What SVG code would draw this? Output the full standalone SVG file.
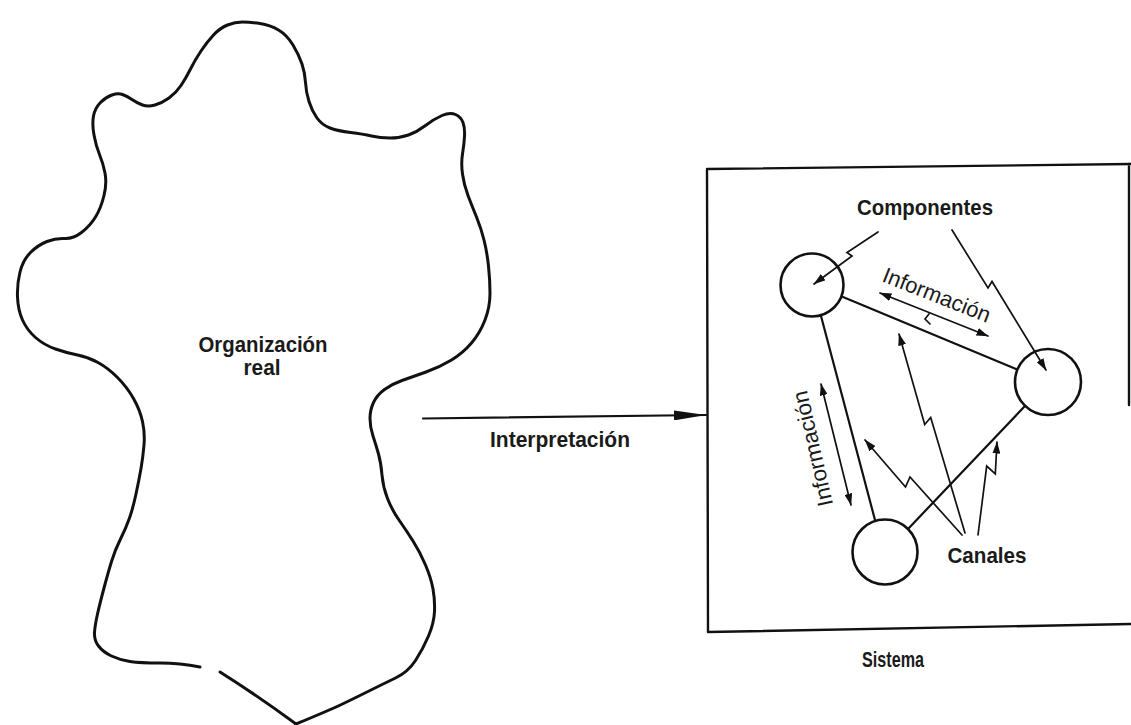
<svg xmlns="http://www.w3.org/2000/svg" width="1131" height="725" viewBox="0 0 1131 725">
  <defs>
    <style>
      .outline { fill: none; stroke: #111; stroke-linecap: round; stroke-linejoin: round; }
      .blob { stroke-width: 3; }
      .frame { stroke-width: 2.4; }
      .node { fill: none; stroke: #111; stroke-width: 2.6; }
      .link { fill: none; stroke: #111; stroke-width: 2.2; stroke-linecap: round; }
      .ptr { fill: none; stroke: #111; stroke-width: 1.7; stroke-linejoin: miter; stroke-linecap: round; }
      .lbl { font-family: "Liberation Sans", Arial, sans-serif; font-size: 22px; fill: #1a1a1a; text-anchor: middle; }
      .b { font-weight: bold; }
    </style>
    <marker id="head" viewBox="0 0 12 8" refX="11.5" refY="4" markerWidth="12" markerHeight="8" markerUnits="userSpaceOnUse" orient="auto-start-reverse">
      <path d="M0,0 L12,4 L0,8 z" fill="#111"/>
    </marker>
    <marker id="longhead" viewBox="0 0 32 10" refX="32" refY="5" markerWidth="32" markerHeight="10" markerUnits="userSpaceOnUse" orient="auto">
      <path d="M0,0 L32,5 L0,10 z" fill="#111"/>
    </marker>
  </defs>

  <!-- free-form outline of the real organisation -->
  <g id="organizacion-real">
    <path class="outline blob" d="M220,672 Q258,696 296,724"/>
    <path class="outline blob" d="M296,724 Q330,710 343.5,703.5 Q357,697 370,690.5 Q383,684 395.5,678 Q408,672 415.5,660.5 Q423,649 428.5,636 Q434,623 434.5,611.5 Q435,600 433,589 Q431,578 425.5,565 Q420,552 413,541 Q406,530 399,520 Q392,510 387.5,498.5 Q383,487 382,475 Q381,463 378.5,454 Q376,445 373,436 Q370,427 370,418.5 Q370,410 373.5,402.5 Q377,395 384.5,389.5 Q392,384 402,380.5 Q412,377 426,372 Q440,367 451.5,360 Q463,353 471.5,343 Q480,333 485,320 Q490,307 490,293.5 Q490,280 488.5,266 Q487,252 484,240 Q481,228 476.5,217 Q472,206 468,195.5 Q464,185 462.5,174 Q461,163 462.5,154 Q464,145 464.5,136.5 Q465,128 463,122.5 Q461,117 455.5,114.5 Q450,112 442,115.5 Q434,119 425.5,125.5 Q417,132 408.5,135 Q400,138 390,138 Q380,138 371.5,136 Q363,134 350.5,132.5 Q338,131 330,128 Q322,125 317,118 Q312,111 309,101.5 Q306,92 305.5,82.5 Q305,73 302,64 Q299,55 293,45 Q287,35 278.5,30 Q270,25 260,23.5 Q250,22 242.5,22 Q235,22 227.5,25 Q220,28 213.5,35 Q207,42 201,51 Q195,60 190.5,69 Q186,78 181,85.5 Q176,93 169,98 Q162,103 155,105 Q148,107 142.5,105 Q137,103 132,99.5 Q127,96 122.5,94.5 Q118,93 112,95 Q106,97 100.5,102.5 Q95,108 93.5,116 Q92,124 94,135 Q96,146 99.5,154.5 Q103,163 105,173 Q107,183 104,195.5 Q101,208 95.5,217 Q90,226 81.5,232.5 Q73,239 64.5,238.5 Q56,238 47,241.5 Q38,245 30.5,252.5 Q23,260 20,272 Q17,284 17.5,297 Q18,310 22.5,320 Q27,330 35.5,337.5 Q44,345 55.5,349 Q67,353 77.5,355 Q88,357 98,362.5 Q108,368 117.5,377.5 Q127,387 133.5,398.5 Q140,410 142.5,421.5 Q145,433 144,445 Q143,457 141,468.5 Q139,480 136,494 Q133,508 129.5,518 Q126,528 120.5,539 Q115,550 111.5,561.5 Q108,573 104,588 Q100,603 97.5,614 Q95,625 94.5,632.5 Q94,640 98.5,646 Q103,652 111.5,656 Q120,660 130,661.5 Q140,663 160,663 Q180,663 200,667"/>
    <text class="lbl b" x="263" y="352" textLength="129" lengthAdjust="spacingAndGlyphs">Organización</text>
    <text class="lbl b" x="262" y="375" textLength="37" lengthAdjust="spacingAndGlyphs">real</text>
  </g>

  <!-- system frame -->
  <g id="sistema">
    <path class="outline frame" d="M707,169 L1131,164 M707,169 L708,632 L1131,624 M1129,164 L1129,405"/>
    <text class="lbl b" x="893" y="667" font-size="20" textLength="62" lengthAdjust="spacingAndGlyphs">Sistema</text>
  </g>

  <!-- connectors: links between components, information flows, pointers -->
  <g id="connectors">
    <line class="link" x1="843" y1="297" x2="1016" y2="369"/>
    <line class="link" x1="821" y1="316" x2="875" y2="520"/>
    <line class="link" x1="908" y1="529" x2="1024" y2="407"/>

    <!-- interpretation arrow -->
    <line class="link" x1="423" y1="418.5" x2="706" y2="415" stroke-width="2" marker-end="url(#longhead)"/>

    <!-- information double arrows -->
    <line class="ptr" x1="880" y1="293" x2="988" y2="336" marker-start="url(#head)" marker-end="url(#head)"/>
    <path class="ptr" d="M929,314 L925,319 L930,324" stroke-width="1.2"/>
    <line class="ptr" x1="821" y1="384" x2="851" y2="505" marker-start="url(#head)" marker-end="url(#head)"/>

    <!-- Componentes pointers -->
    <polyline class="ptr" points="878,232 847,252.5 852,256 814,284" marker-end="url(#head)"/>
    <polyline class="ptr" points="952,230 988,288 992,281.5 1046,370" marker-end="url(#head)"/>

    <!-- Canales pointers -->
    <polyline class="ptr" points="965,533 930.7,417.5 924.7,424.5 899,334" marker-end="url(#head)"/>
    <polyline class="ptr" points="962,535 910,477 905.5,487 865,440" marker-end="url(#head)"/>
    <polyline class="ptr" points="978,535 986.7,466.1 995.3,473.9 997,442" marker-end="url(#head)"/>
  </g>

  <!-- components -->
  <g id="componente-1"><circle class="node" cx="812" cy="285" r="31.5"/></g>
  <g id="componente-2"><circle class="node" cx="1048" cy="382" r="33"/></g>
  <g id="componente-3"><circle class="node" cx="885" cy="552" r="32.5"/></g>

  <!-- labels -->
  <g id="etiquetas">
    <text class="lbl b" x="925" y="215" textLength="136" lengthAdjust="spacingAndGlyphs">Componentes</text>
    <text class="lbl" font-size="21" transform="translate(934,302) rotate(21.5)" textLength="114" lengthAdjust="spacingAndGlyphs">Información</text>
    <text class="lbl" font-size="21" transform="translate(820,447) rotate(-103)" textLength="118" lengthAdjust="spacingAndGlyphs">Información</text>
    <text class="lbl b" x="987" y="563" textLength="79" lengthAdjust="spacingAndGlyphs">Canales</text>
    <text class="lbl b" x="560" y="447" textLength="140" lengthAdjust="spacingAndGlyphs">Interpretación</text>
  </g>
</svg>
